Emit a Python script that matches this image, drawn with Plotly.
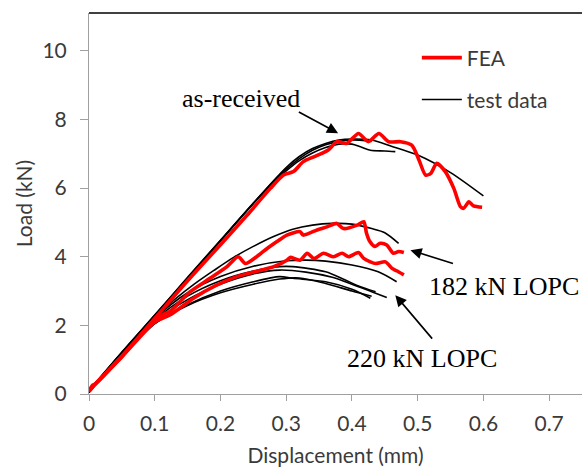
import plotly.graph_objects as go

# ---------------- data ----------------
# as-received, FEA
ar_fea_x = [0, 0.005, 0.01, 0.05, 0.10, 0.15, 0.20, 0.24, 0.276, 0.296, 0.311, 0.326, 0.342, 0.364,
            0.377, 0.392, 0.410, 0.425, 0.441, 0.456, 0.474, 0.491, 0.502, 0.512, 0.520, 0.529,
            0.542, 0.555, 0.565, 0.570, 0.578, 0.585, 0.598]
ar_fea_y = [0.08, 0.25, 0.30, 1.10, 2.20, 3.30, 4.35, 5.20, 5.99, 6.38, 6.48, 6.77, 6.91, 7.11,
            7.35, 7.30, 7.59, 7.35, 7.59, 7.35, 7.35, 7.25, 6.82, 6.38, 6.43, 6.72,
            6.48, 5.99, 5.46, 5.41, 5.60, 5.48, 5.44]

# as-received, test data
ar_t1_x = [0, 0.01, 0.05, 0.10, 0.15, 0.20, 0.25, 0.28, 0.30, 0.32, 0.34, 0.36, 0.38, 0.40, 0.43,
           0.46, 0.50, 0.55, 0.60]
ar_t1_y = [0.05, 0.30, 1.20, 2.28, 3.37, 4.46, 5.55, 6.20, 6.60, 6.92, 7.15, 7.30, 7.40, 7.43, 7.40,
           7.22, 6.96, 6.45, 5.77]
ar_t2_x = [0, 0.01, 0.05, 0.10, 0.15, 0.20, 0.25, 0.28, 0.30, 0.32, 0.34, 0.36, 0.38, 0.40, 0.413,
           0.428, 0.45, 0.466]
ar_t2_y = [0.05, 0.32, 1.22, 2.30, 3.40, 4.48, 5.55, 6.15, 6.50, 6.80, 7.02, 7.18, 7.28, 7.28, 7.20,
           7.10, 7.08, 7.06]
ar_t3_x = [0, 0.01, 0.05, 0.10, 0.15, 0.20, 0.25, 0.28, 0.30, 0.32, 0.34, 0.36, 0.38, 0.40, 0.43]
ar_t3_y = [0.05, 0.31, 1.21, 2.29, 3.38, 4.47, 5.56, 6.18, 6.55, 6.86, 7.10, 7.26, 7.36, 7.40, 7.36]

# 182 kN LOPC, FEA
l182_fea_x = [0, 0.01, 0.05, 0.10, 0.116, 0.123, 0.154, 0.184, 0.210, 0.227, 0.238, 0.255, 0.271,
              0.286, 0.301, 0.321, 0.326, 0.347, 0.362, 0.377, 0.387, 0.408, 0.418, 0.422, 0.427,
              0.435, 0.443, 0.453, 0.463, 0.471, 0.479]
l182_fea_y = [0.08, 0.30, 1.10, 2.15, 2.35, 2.40, 2.98, 3.37, 3.71, 4.00, 3.80, 4.00, 4.24,
              4.44, 4.63, 4.73, 4.63, 4.78, 4.87, 4.97, 4.82, 4.92, 5.02, 4.70, 4.45,
              4.30, 4.39, 4.34, 4.10, 4.15, 4.12]

# 220 kN LOPC, FEA
l220_fea_x = [0, 0.01, 0.05, 0.10, 0.123, 0.159, 0.194, 0.225, 0.260, 0.281, 0.301, 0.306, 0.321,
              0.332, 0.342, 0.357, 0.372, 0.385, 0.395, 0.410, 0.418, 0.428, 0.436, 0.451, 0.461,
              0.468, 0.479]
l220_fea_y = [0.08, 0.30, 1.08, 2.10, 2.30, 2.79, 3.17, 3.42, 3.60, 3.71, 3.90, 3.98, 3.90,
              4.10, 3.95, 4.10, 4.00, 4.10, 4.00, 4.12, 3.95, 3.85, 3.80, 3.85, 3.66,
              3.59, 3.47]

# 182 kN LOPC, test data
l182_t1_x = [0, 0.01, 0.05, 0.10, 0.13, 0.16, 0.19, 0.22, 0.25, 0.28, 0.31, 0.34, 0.37, 0.40, 0.43,
             0.45, 0.471]
l182_t1_y = [0.05, 0.30, 1.20, 2.25, 2.75, 3.20, 3.60, 3.98, 4.30, 4.58, 4.80, 4.92, 4.97, 4.95, 4.82,
             4.70, 4.39]
l182_t2_x = [0, 0.01, 0.05, 0.10, 0.15, 0.20, 0.25, 0.30, 0.33, 0.36, 0.40, 0.44, 0.468]
l182_t2_y = [0.05, 0.30, 1.18, 2.20, 2.95, 3.42, 3.72, 3.88, 3.90, 3.87, 3.76, 3.56, 3.27]

# 220 kN LOPC, test data
l220_t1_x = [0, 0.01, 0.05, 0.10, 0.15, 0.20, 0.25, 0.29, 0.31, 0.36, 0.39, 0.41, 0.436]
l220_t1_y = [0.05, 0.30, 1.15, 2.15, 2.85, 3.30, 3.58, 3.71, 3.71, 3.56, 3.32, 3.15, 2.98]
l220_t2_x = [0, 0.01, 0.05, 0.10, 0.15, 0.20, 0.25, 0.29, 0.33, 0.37, 0.40, 0.43, 0.453]
l220_t2_y = [0.05, 0.30, 1.13, 2.10, 2.75, 3.20, 3.50, 3.61, 3.55, 3.40, 3.20, 2.98, 2.81]
l220_t3_x = [0, 0.01, 0.05, 0.10, 0.15, 0.20, 0.25, 0.29, 0.31, 0.36, 0.40, 0.428]
l220_t3_y = [0.05, 0.30, 1.10, 2.05, 2.60, 3.00, 3.27, 3.42, 3.37, 3.27, 3.05, 2.79]
l220_t4_x = [0, 0.01, 0.05, 0.10, 0.15, 0.20, 0.25, 0.29, 0.32, 0.36, 0.40, 0.43]
l220_t4_y = [0.05, 0.30, 1.10, 2.05, 2.58, 2.95, 3.20, 3.35, 3.38, 3.22, 3.00, 2.85]

x_ticks = [0, 0.1, 0.2, 0.3, 0.4, 0.5, 0.6, 0.7]
x_tick_text = ["0", "0.1", "0.2", "0.3", "0.4", "0.5", "0.6", "0.7"]
y_ticks = [0, 2, 4, 6, 8, 10]
y_tick_text = ["0", "2", "4", "6", "8", "10"]

# ---------------- figure ----------------
TICK_FONT = dict(family="Lato, 'Open Sans', sans-serif", size=21, color="#3a3a3a")
SERIF = "'Liberation Serif', 'DejaVu Serif', serif"

fig = go.Figure()

tests = [
    (ar_t1_x, ar_t1_y), (ar_t2_x, ar_t2_y), (ar_t3_x, ar_t3_y),
    (l182_t1_x, l182_t1_y), (l182_t2_x, l182_t2_y),
    (l220_t1_x, l220_t1_y), (l220_t2_x, l220_t2_y), (l220_t3_x, l220_t3_y), (l220_t4_x, l220_t4_y),
]
for i, (xs, ys) in enumerate(tests):
    fig.add_trace(go.Scatter(
        x=xs, y=ys, mode="lines", name="test data",
        line=dict(color="black", width=1.6, shape="spline", smoothing=0.8),
        showlegend=(i == 0), legend="legend2", hoverinfo="skip"))

feas = [(ar_fea_x, ar_fea_y), (l182_fea_x, l182_fea_y), (l220_fea_x, l220_fea_y)]
for i, (xs, ys) in enumerate(feas):
    fig.add_trace(go.Scatter(
        x=xs, y=ys, mode="lines", name="FEA",
        line=dict(color="#ff0000", width=3.6, shape="spline", smoothing=0.7),
        showlegend=(i == 0), legend="legend", hoverinfo="skip"))

ann_font = dict(family=SERIF, size=26, color="black")
annotations = [
    dict(x=0.231, y=8.62, text="as-received", showarrow=False, font=ann_font,
         xanchor="center", yanchor="middle"),
    dict(x=0.632, y=3.12, text="182 kN LOPC", showarrow=False, font=ann_font,
         xanchor="center", yanchor="middle"),
    dict(x=0.506, y=1.02, text="220 kN LOPC", showarrow=False, font=ann_font,
         xanchor="center", yanchor="middle"),
    # arrows
    dict(x=0.379, y=7.60, ax=0.317, ay=8.24, axref="x", ayref="y", text="", showarrow=True,
         arrowhead=2, arrowsize=1.4, arrowwidth=1.6, arrowcolor="black", standoff=0),
    dict(x=0.489, y=4.19, ax=0.556, ay=3.79, axref="x", ayref="y", text="", showarrow=True,
         arrowhead=2, arrowsize=1.4, arrowwidth=1.6, arrowcolor="black", standoff=0),
    dict(x=0.466, y=2.88, ax=0.524, ay=1.57, axref="x", ayref="y", text="", showarrow=True,
         arrowhead=2, arrowsize=1.4, arrowwidth=1.6, arrowcolor="black", standoff=0),
]

fig.update_layout(
    width=582, height=471,
    margin=dict(l=89, r=0, t=13, b=77),
    paper_bgcolor="white", plot_bgcolor="white",
    showlegend=True,
    legend=dict(x=0.665, y=0.882, xanchor="left", yanchor="middle",
                font=TICK_FONT, bgcolor="rgba(0,0,0,0)", itemwidth=40),
    legend2=dict(x=0.665, y=0.772, xanchor="left", yanchor="middle",
                 font=TICK_FONT, bgcolor="rgba(0,0,0,0)", itemwidth=40),
    annotations=annotations,
    shapes=[dict(type="line", xref="paper", yref="paper", x0=0, x1=1, y0=1, y1=1,
                 line=dict(color="black", width=1.5))],
    xaxis=dict(range=[0, 0.75], tickvals=x_ticks, ticktext=x_tick_text,
               showgrid=False, zeroline=False, showline=True, linecolor="#a0a0a0", linewidth=1,
               ticks="outside", ticklen=6, tickcolor="#a0a0a0", tickfont=TICK_FONT,
               ticklabelstandoff=5,
               title=dict(text="Displacement (mm)", font=TICK_FONT, standoff=14)),
    yaxis=dict(range=[0, 11.1], tickvals=y_ticks, ticktext=y_tick_text,
               showgrid=False, zeroline=False, showline=True, linecolor="#a0a0a0", linewidth=1,
               ticks="outside", ticklen=8, tickcolor="#a0a0a0", tickfont=TICK_FONT,
               ticklabelstandoff=9,
               title=dict(text="Load (kN)", font=TICK_FONT, standoff=4)),
)

fig.write_html("out.html")
